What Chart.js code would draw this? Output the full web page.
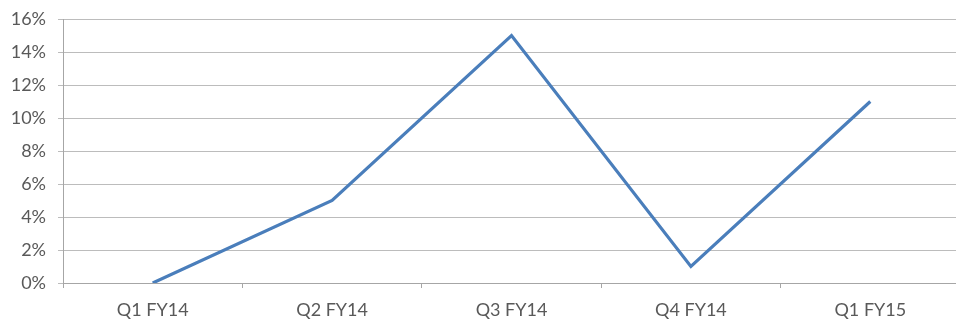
<!DOCTYPE html>
<html>
<head>
<meta charset="utf-8">
<script src="https://cdn.jsdelivr.net/npm/chart.js@4.4.1/dist/chart.umd.min.js"></script>
<style>
  html, body { margin: 0; padding: 0; background: #ffffff; overflow: hidden; }
  #wrap { width: 960px; height: 327px; position: relative; }
</style>
</head>
<body>
<div id="wrap"><canvas id="c"></canvas></div>
<script>
// Quarterly growth rate, in percent
const quarters = ['Q1 FY14', 'Q2 FY14', 'Q3 FY14', 'Q4 FY14', 'Q1 FY15'];
const growth = [0, 5, 15, 1, 11];
const yTicks = [0, 2, 4, 6, 8, 10, 12, 14, 16];

const labelFont = { family: 'Lato, "Open Sans", sans-serif', size: 18 };

new Chart(document.getElementById('c'), {
  type: 'line',
  data: {
    labels: quarters,
    datasets: [{
      data: growth,
      borderColor: '#4a7ebb',
      borderWidth: 3.2,
      pointRadius: 0,
      tension: 0,
      fill: false
    }]
  },
  options: {
    responsive: true,
    maintainAspectRatio: false,
    animation: false,
    layout: { padding: { top: 19, right: 0, bottom: 0, left: 0 } },
    plugins: { legend: { display: false }, tooltip: { enabled: false } },
    scales: {
      x: {
        offset: true,
        border: { color: '#a6a6a6', width: 1 },
        grid: { offset: true, drawOnChartArea: false, drawTicks: true, tickLength: 5, color: '#a6a6a6' },
        ticks: { color: '#595959', font: labelFont, padding: 11, maxRotation: 0 },
        afterFit: s => { s.height = 44; s.paddingLeft = 0; s.paddingRight = 0; }
      },
      y: {
        min: 0,
        max: 16,
        afterBuildTicks: s => { s.ticks = yTicks.map(v => ({ value: v })); },
        border: { color: '#a6a6a6', width: 1 },
        grid: { color: '#bcbcbc', lineWidth: 1, tickLength: 5 },
        ticks: { color: '#595959', font: labelFont, padding: 12, callback: v => v + '%' },
        afterFit: s => { s.width = 63; s.paddingTop = 0; s.paddingBottom = 0; }
      }
    }
  }
});
</script>
</body>
</html>
